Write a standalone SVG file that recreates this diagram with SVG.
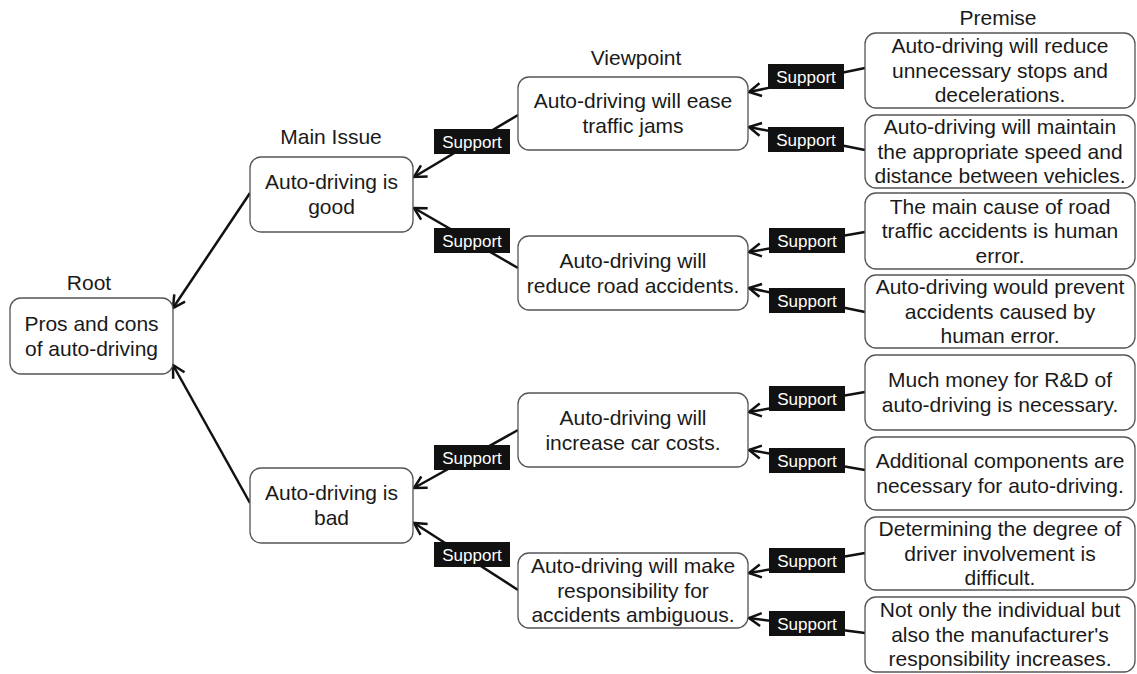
<svg xmlns="http://www.w3.org/2000/svg" width="1137" height="674" viewBox="0 0 1137 674">
<style>
.box{fill:#fff;stroke:#555;stroke-width:1.3}
.t{font-family:"Liberation Sans",Arial,sans-serif;font-size:21px;fill:#1a1a1a;text-anchor:middle}
.h{font-family:"Liberation Sans",Arial,sans-serif;font-size:21px;fill:#1a1a1a;text-anchor:middle}
.c{stroke:#111;stroke-width:2.5;fill:none;marker-end:url(#ah)}
.lb{fill:#111}
.lt{font-family:"Liberation Sans",Arial,sans-serif;font-size:17px;fill:#fff;text-anchor:middle}
</style>
<defs>
<marker id="ah" markerUnits="userSpaceOnUse" markerWidth="16" markerHeight="16" viewBox="0 0 16 16" refX="14" refY="8" orient="auto">
<path d="M2,1.5 L14,8 L2,14.5" fill="none" stroke="#111" stroke-width="2.5"/>
</marker>
</defs>
<rect width="1137" height="674" fill="#fff"/>
<g id="headers">
<text class="h" x="89" y="290">Root</text>
<text class="h" x="331" y="144">Main Issue</text>
<text class="h" x="636" y="65">Viewpoint</text>
<text class="h" x="998" y="25">Premise</text>
</g>
<g id="connectors">
<path class="c" d="M250,193 L173,308"/>
<path class="c" d="M250,503 L173,365"/>
<path class="c" d="M518,115 L414,177"/>
<path class="c" d="M518,268 L414,208"/>
<path class="c" d="M518,430 L414,488"/>
<path class="c" d="M518,590 L414,523"/>
<path class="c" d="M865,68 L749,92"/>
<path class="c" d="M865,150 L749,127"/>
<path class="c" d="M865,232 L749,252"/>
<path class="c" d="M865,312 L749,288"/>
<path class="c" d="M865,392 L749,412"/>
<path class="c" d="M865,470 L749,450"/>
<path class="c" d="M865,553 L749,573"/>
<path class="c" d="M865,633 L749,618"/>
<g id="labels">
<rect class="lb" x="434" y="129" width="76" height="25"/><text class="lt" x="472" y="148">Support</text>
<rect class="lb" x="434" y="228" width="76" height="25"/><text class="lt" x="472" y="247">Support</text>
<rect class="lb" x="434" y="445" width="76" height="25"/><text class="lt" x="472" y="464">Support</text>
<rect class="lb" x="434" y="542" width="76" height="25"/><text class="lt" x="472" y="561">Support</text>
<rect class="lb" x="768" y="64" width="76" height="25"/><text class="lt" x="806" y="83">Support</text>
<rect class="lb" x="768" y="127" width="76" height="25"/><text class="lt" x="806" y="146">Support</text>
<rect class="lb" x="769" y="228" width="76" height="25"/><text class="lt" x="807" y="247">Support</text>
<rect class="lb" x="769" y="288" width="76" height="25"/><text class="lt" x="807" y="307">Support</text>
<rect class="lb" x="769" y="386" width="76" height="25"/><text class="lt" x="807" y="405">Support</text>
<rect class="lb" x="769" y="448" width="76" height="25"/><text class="lt" x="807" y="467">Support</text>
<rect class="lb" x="769" y="548" width="76" height="25"/><text class="lt" x="807" y="567">Support</text>
<rect class="lb" x="769" y="611" width="76" height="25"/><text class="lt" x="807" y="630">Support</text>
</g>
</g>
<g id="root">
<rect class="box" x="10" y="298" width="163" height="76" rx="11"/>
<text class="t" x="91.5" y="331">Pros and cons</text>
<text class="t" x="91.5" y="356">of auto-driving</text>
</g>
<g id="good">
<rect class="box" x="250" y="157" width="163" height="75" rx="11"/>
<text class="t" x="331.5" y="189">Auto-driving is</text>
<text class="t" x="331.5" y="214">good</text>
</g>
<g id="bad">
<rect class="box" x="250" y="468" width="163" height="75" rx="11"/>
<text class="t" x="331.5" y="500">Auto-driving is</text>
<text class="t" x="331.5" y="525">bad</text>
</g>
<g id="vp1">
<rect class="box" x="518" y="77" width="230" height="73" rx="11"/>
<text class="t" x="633" y="108">Auto-driving will ease</text>
<text class="t" x="633" y="133">traffic jams</text>
</g>
<g id="vp2">
<rect class="box" x="518" y="236" width="230" height="74" rx="11"/>
<text class="t" x="633" y="268">Auto-driving will</text>
<text class="t" x="633" y="293">reduce road accidents.</text>
</g>
<g id="vp3">
<rect class="box" x="518" y="393" width="230" height="74" rx="11"/>
<text class="t" x="633" y="425">Auto-driving will</text>
<text class="t" x="633" y="450">increase car costs.</text>
</g>
<g id="vp4">
<rect class="box" x="518" y="553" width="230" height="75" rx="11"/>
<text class="t" x="633" y="573">Auto-driving will make</text>
<text class="t" x="633" y="597.5">responsibility for</text>
<text class="t" x="633" y="622">accidents ambiguous.</text>
</g>
<g id="p1">
<rect class="box" x="865" y="33" width="270" height="75" rx="11"/>
<text class="t" x="1000" y="53">Auto-driving will reduce</text>
<text class="t" x="1000" y="77.5">unnecessary stops and</text>
<text class="t" x="1000" y="102">decelerations.</text>
</g>
<g id="p2">
<rect class="box" x="865" y="115" width="270" height="73" rx="11"/>
<text class="t" x="1000" y="134">Auto-driving will maintain</text>
<text class="t" x="1000" y="158.5">the appropriate speed and</text>
<text class="t" x="1000" y="183">distance between vehicles.</text>
</g>
<g id="p3">
<rect class="box" x="865" y="193" width="270" height="76" rx="11"/>
<text class="t" x="1000" y="213.5">The main cause of road</text>
<text class="t" x="1000" y="238">traffic accidents is human</text>
<text class="t" x="1000" y="262.5">error.</text>
</g>
<g id="p4">
<rect class="box" x="865" y="275" width="270" height="73" rx="11"/>
<text class="t" x="1000" y="294">Auto-driving would prevent</text>
<text class="t" x="1000" y="318.5">accidents caused by</text>
<text class="t" x="1000" y="343">human error.</text>
</g>
<g id="p5">
<rect class="box" x="865" y="355" width="270" height="75" rx="11"/>
<text class="t" x="1000" y="387">Much money for R&amp;D of</text>
<text class="t" x="1000" y="412">auto-driving is necessary.</text>
</g>
<g id="p6">
<rect class="box" x="865" y="437" width="270" height="73" rx="11"/>
<text class="t" x="1000" y="468">Additional components are</text>
<text class="t" x="1000" y="493">necessary for auto-driving.</text>
</g>
<g id="p7">
<rect class="box" x="865" y="517" width="270" height="73" rx="11"/>
<text class="t" x="1000" y="536">Determining the degree of</text>
<text class="t" x="1000" y="560.5">driver involvement is</text>
<text class="t" x="1000" y="585">difficult.</text>
</g>
<g id="p8">
<rect class="box" x="865" y="597" width="270" height="75" rx="11"/>
<text class="t" x="1000" y="617">Not only the individual but</text>
<text class="t" x="1000" y="641.5">also the manufacturer's</text>
<text class="t" x="1000" y="666">responsibility increases.</text>
</g>
</svg>
